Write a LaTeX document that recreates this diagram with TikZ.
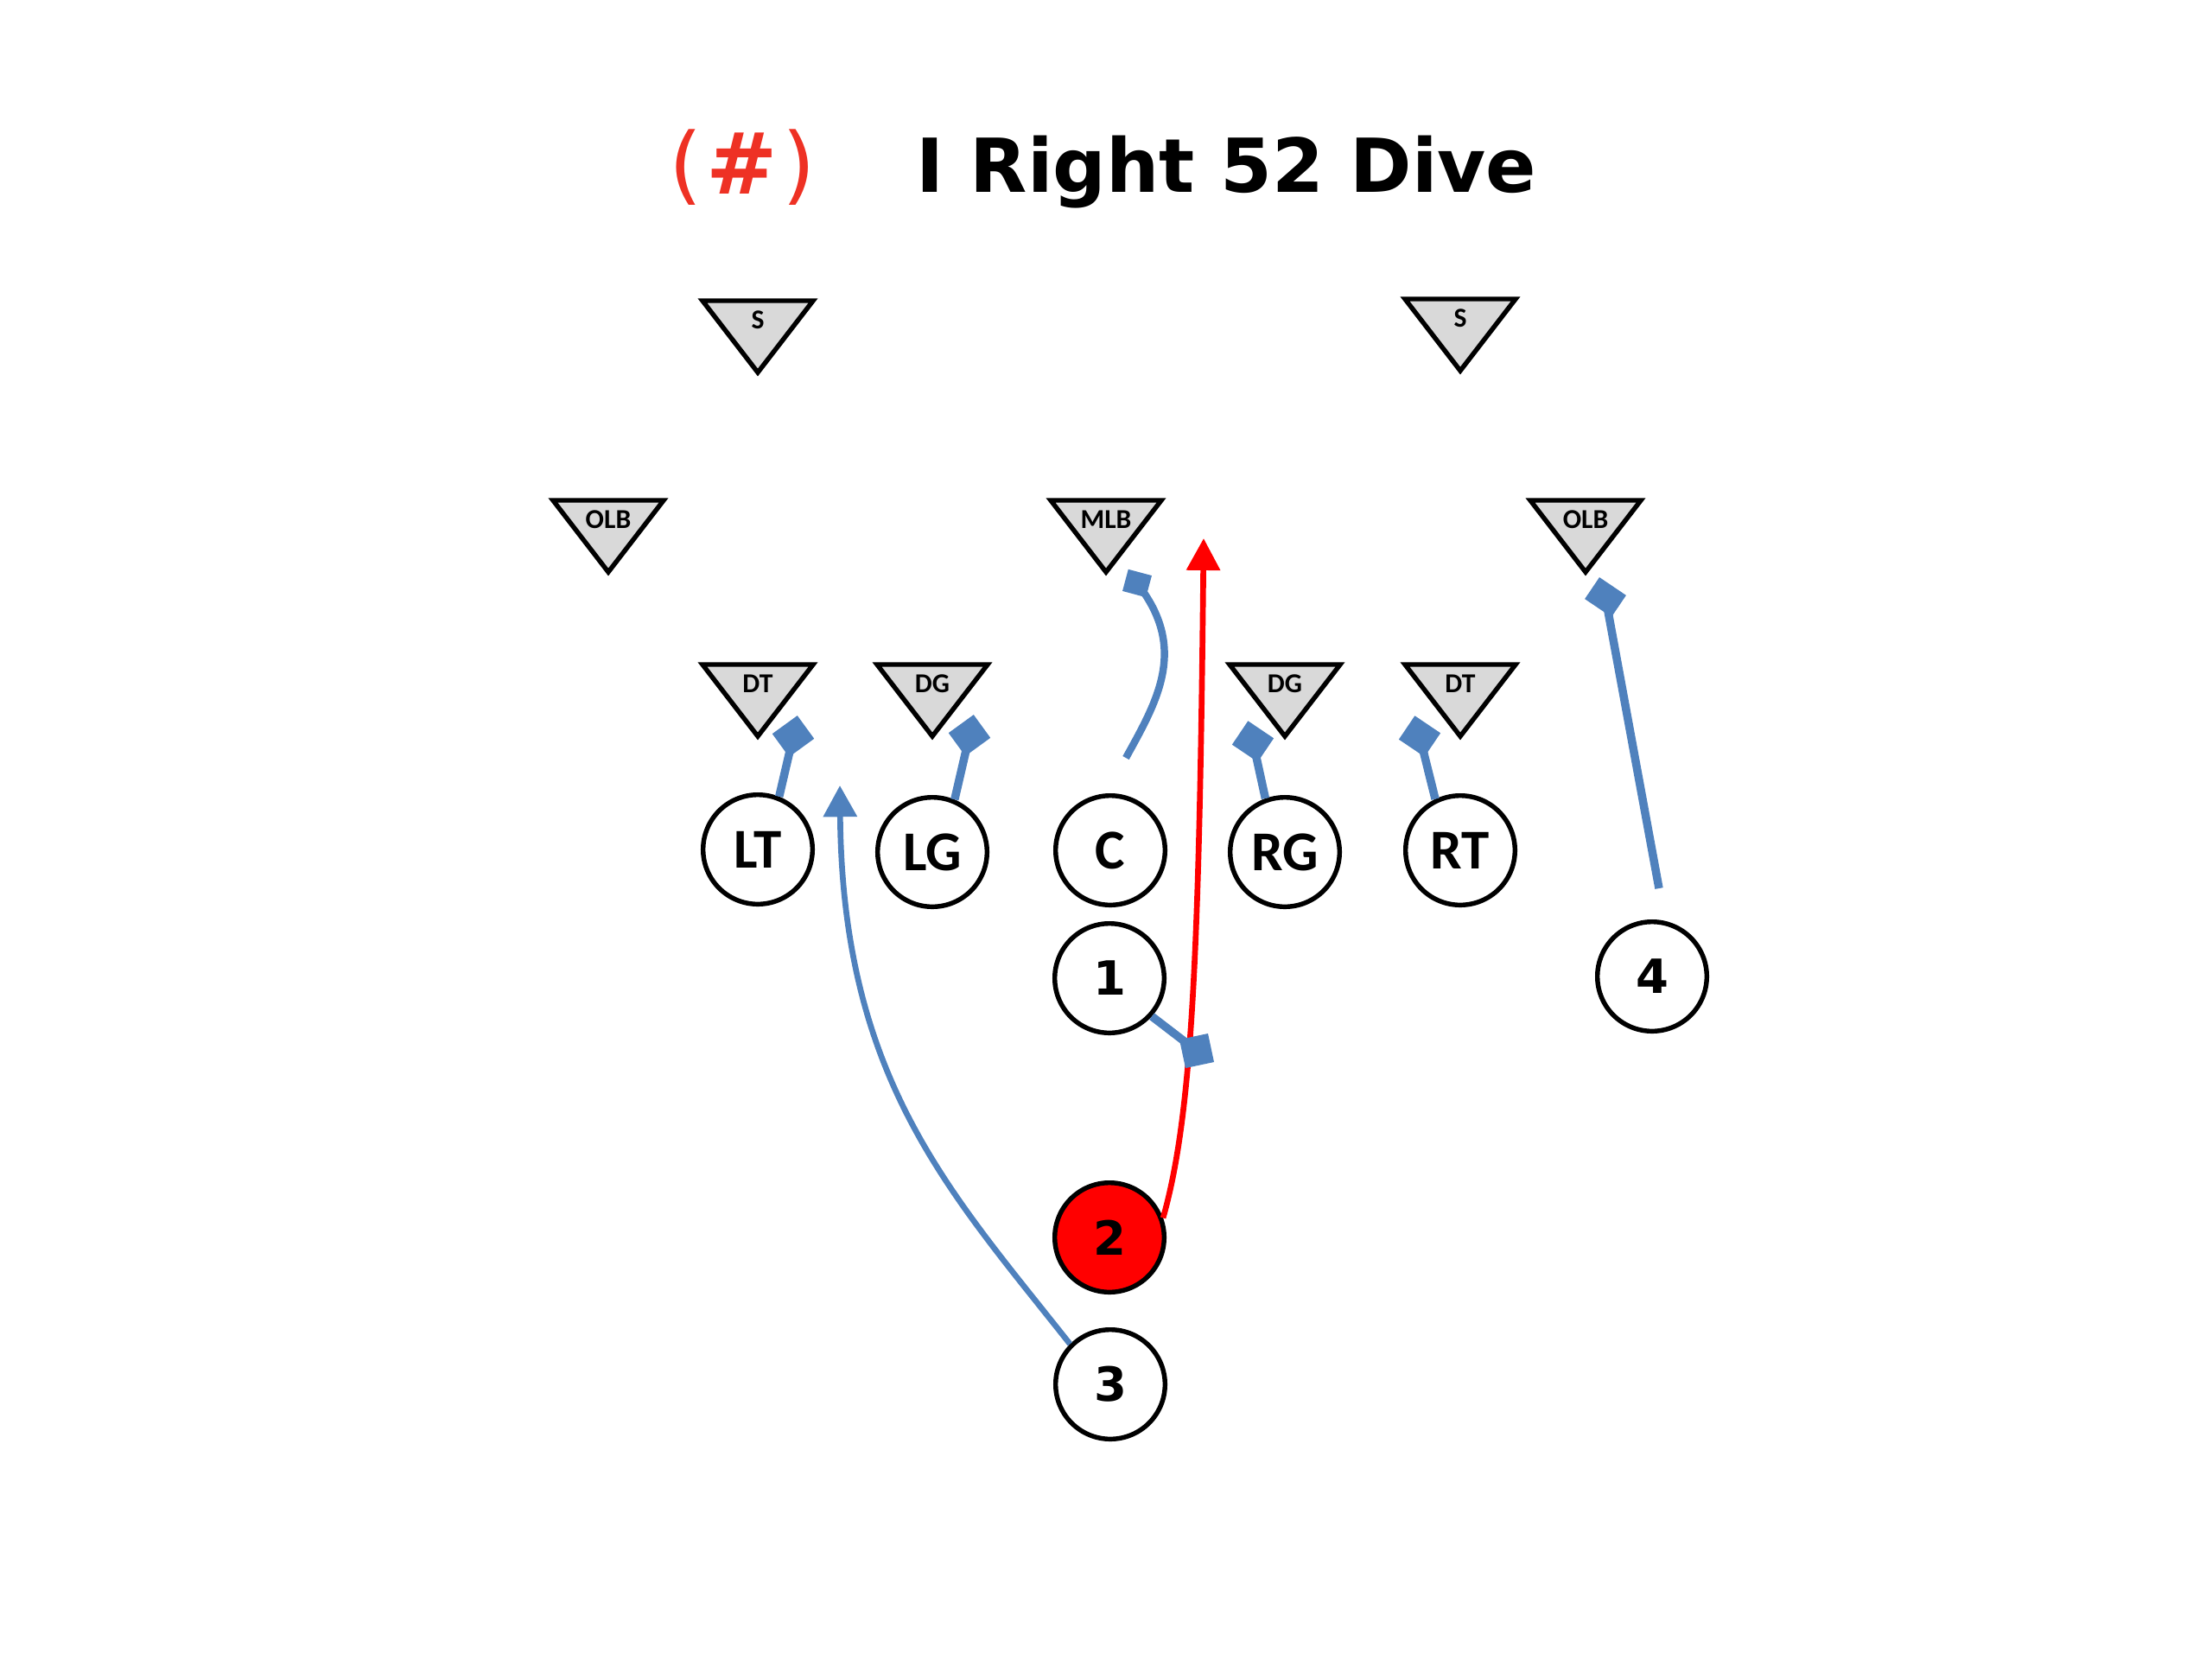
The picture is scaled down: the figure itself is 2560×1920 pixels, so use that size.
\documentclass[tikz,border=0pt]{standalone}
\usepackage{fontspec}
\newfontfamily\calfont{Carlito}
\newfontfamily\dejafont{DejaVu Sans}
\usetikzlibrary{arrows.meta}
\definecolor{pblue}{HTML}{4F81BD}
\definecolor{ttlred}{HTML}{EE3124}
\definecolor{trifill}{HTML}{D9D9D9}
\tikzset{
  pics/defender/.style={code={
    \path[draw=black,line width=1.55pt,fill=trifill,line join=miter] (-64,0) -- (64,0) -- (0,83) -- cycle;
    \node[deflabel] (-lbl) at (0,22) {#1};
  }},
  deflabel/.style={font=\calfont\bfseries\fontsize{9}{10}\selectfont,inner sep=0pt},
  player/.style={circle,draw=black,line width=1.55pt,fill=white,minimum size=36pt,inner sep=0pt,
    font=\calfont\bfseries\fontsize{18.5}{19}\selectfont},
  numplayer/.style={player,font=\dejafont\bfseries\fontsize{15.5}{16}\selectfont},
  blksq/.style={fill=pblue,draw=none,minimum width=10.2pt,minimum height=9.4pt,inner sep=0pt},
  blkline/.style={draw=pblue,line width=2.7pt},
  route/.style={draw=pblue,line width=1.9pt,-{Triangle[length=10.3pt,width=10.8pt]}},
  redroute/.style={draw=red,line width=1.9pt,-{Triangle[length=10.5pt,width=10.8pt]}}
}
\begin{document}
\begin{tikzpicture}[x=0.01cm,y=-0.01cm]
\useasboundingbox (0,0) rectangle (2560,1920);

% title
\node[anchor=base west,inner sep=0pt,font=\dejafont\bfseries\fontsize{24.5}{28}\selectfont] (title) at (1060,222) {I Right 52 Dive};
\node[anchor=base,inner sep=0pt,text=ttlred,font=\dejafont\fontsize{28}{30}\selectfont] (num) at (859,224) {(\kern1.5pt\textbf{\#}\kern1.5pt)};

% defenders
\pic (SL) at (877,348) {defender=S};
\pic (SR) at (1690,346) {defender=S};
\pic (OLBL) at (704,579) {defender=OLB};
\pic (MLB) at (1280,579) {defender=MLB};
\pic (OLBR) at (1835,579) {defender=OLB};
\pic (DTL) at (877,769) {defender=DT};
\pic (DGL) at (1079,769) {defender=DG};
\pic (DGR) at (1487,769) {defender=DG};
\pic (DTR) at (1690,769) {defender=DT};

% offense
\node[player] (LT) at (877,983) {LT};
\node[player] (LG) at (1079,986) {LG};
\node[player] (C) at (1285,984) {C};
\node[player] (RG) at (1487,986) {RG};
\node[player] (RT) at (1690,984) {RT};
\node[numplayer] (p1) at (1284,1132) {1};
\node[numplayer,fill=red] (p2) at (1284,1432) {2};
\node[numplayer] (p3) at (1285,1602) {3};
\node[numplayer] (p4) at (1912,1130) {4};

% routes
\coordinate (redtip) at (1393,623);
\draw[redroute] (p2.20) .. controls (1380,1290) and (1388,1100) .. (redtip);
\coordinate (tip3) at (972,909);
\draw[route] (p3.135) .. controls (1100,1380) and (975,1250) .. (tip3);

% blocks
\coordinate (b1) at (918,852);
\coordinate (b2) at (1122,851);
\coordinate (b3) at (1450,858);
\coordinate (b4) at (1643,852);
\coordinate (b5) at (1316,675);
\coordinate (b6) at (1858,691);
\coordinate (b7) at (1385,1216);
\coordinate (c0) at (1303,877);
\coordinate (f0) at (1920,1028);

\draw[blkline] (LT.68) -- (b1);
\draw[blkline] (LG.67) -- (b2);
\draw[blkline] (RG.110) -- (b3);
\draw[blkline] (RT.116) -- (b4);
\draw[draw=pblue,line width=2.4pt] (c0) .. controls (1340,810) and (1375,750) .. (b5);
\draw[blkline] (f0) -- (b6);
\draw[blkline] (p1.-42) -- (b7);

\node[blksq,rotate=36] (sq1) at (b1) {};
\node[blksq,rotate=36] (sq2) at (b2) {};
\node[blksq,rotate=-34] (sq3) at (b3) {};
\node[blksq,rotate=-34] (sq4) at (b4) {};
\node[blksq,rotate=-15,minimum width=8pt,minimum height=7.4pt] (sq5) at (b5) {};
\node[blksq,rotate=-34,minimum width=10.6pt,minimum height=8.6pt] (sq6) at (b6) {};
\node[blksq,rotate=12,minimum width=9.6pt,minimum height=9.6pt] (sq7) at (b7) {};
\end{tikzpicture}
\end{document}
